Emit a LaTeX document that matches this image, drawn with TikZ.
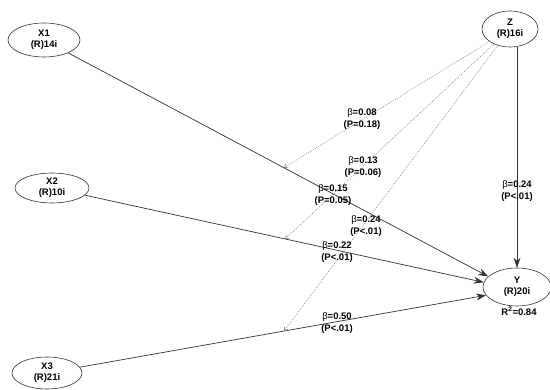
\documentclass[tikz,border=0pt]{standalone}
\usepackage{fontspec}
\setmainfont{Liberation Sans}
\usetikzlibrary{shapes.geometric,arrows.meta,calc}
\begin{document}
\begin{tikzpicture}[x=1pt,y=-1pt,
  lv/.style={ellipse,draw=black!80,line width=0.6pt,inner sep=0pt,align=center,
    font=\fontsize{9.5}{11}\selectfont\bfseries},
  lbl/.style={align=center,inner sep=0pt,font=\fontsize{9.5}{11.5}\selectfont\bfseries},
  path1/.style={draw=black!80,line width=0.7pt,-{Stealth[length=10pt,width=7pt]}},
  modpath/.style={draw=black!45,line width=0.7pt,dash pattern=on 0.8pt off 1.2pt,
    -{Straight Barb[length=3pt,width=4.5pt]}}]
\useasboundingbox (0,0) rectangle (550,390);
\node[lv,minimum width=72pt,minimum height=34pt] (X1) at (44,40) {X1\\(R)14i};
\node[lv,minimum width=56pt,minimum height=36pt] (Z) at (510,29) {Z\\(R)16i};
\node[lv,minimum width=74pt,minimum height=30pt] (X2) at (52,188) {X2\\(R)10i};
\node[lv,minimum width=70pt,minimum height=32pt] (X3) at (47,373) {X3\\(R)21i};
\node[lv,minimum width=68pt,minimum height=38pt] (Y) at (517,287) {Y\\(R)20i};
\node[lbl] (r2) at (519,311) {R\textsuperscript{2}=0.84};
% main paths
\draw[path1] (X1) -- (Y.160);
\draw[path1] (X2) -- (Y.172);
\draw[path1] (X3) -- (Y.195);
\draw[path1] (Y.north |- Z.south) -- (Y.north);
% moderation points
\coordinate (m1) at ($(X1)!0.54!(Y.160)$);
\coordinate (m2) at ($(X2)!0.54!(Y.172)$);
\coordinate (m3) at ($(X3)!0.54!(Y.195)$);
\draw[modpath] (Z) -- (m1);
\draw[modpath] (Z) -- (m2);
\draw[modpath] (Z) -- (m3);
% labels
\node[lbl] (l1) at (362,119) {{\mdseries β}=0.08\\(P=0.18)};
\node[lbl] (l2) at (363,167) {{\mdseries β}=0.13\\(P=0.06)};
\node[lbl] (l3) at (333,195) {{\mdseries β}=0.15\\(P=0.05)};
\node[lbl] (l4) at (366,226) {{\mdseries β}=0.24\\(P<.01)};
\node[lbl] (l5) at (337,252) {{\mdseries β}=0.22\\(P<.01)};
\node[lbl] (l6) at (337,323) {{\mdseries β}=0.50\\(P<.01)};
\node[lbl] (l7) at (517,191) {{\mdseries β}=0.24\\(P<.01)};
\end{tikzpicture}
\end{document}
